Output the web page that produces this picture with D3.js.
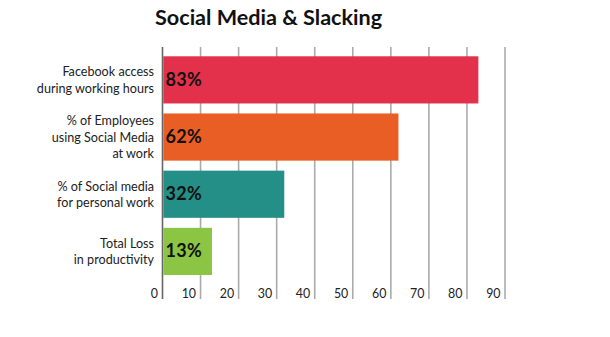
<!DOCTYPE html>
<html>
<head>
<meta charset="utf-8">
<script src="https://cdn.jsdelivr.net/npm/d3@7"></script>
<style>
  html, body { margin: 0; padding: 0; background: #fff; }
  svg { display: block; }
</style>
</head>
<body>
<svg id="chart" width="610" height="337"></svg>
<script>
const title = "Social Media & Slacking";
const categories = [
  ["Facebook access", "during working hours"],
  ["% of Employees", "using Social Media", "at work"],
  ["% of Social media", "for personal work"],
  ["Total Loss", "in productivity"]
];
const values = [83, 62, 32, 13];
const colors = ["#E3314B", "#E95E25", "#248F87", "#8CC443"];
const ticks = [0, 10, 20, 30, 40, 50, 60, 70, 80, 90];

const svg = d3.select("#chart");
const font = "Lato, 'Open Sans', sans-serif";

const x = d3.scaleLinear().domain([0, 90]).range([162.5, 505]);
const y = d3.scaleBand().domain(d3.range(values.length))
  .range([56.3, 275]).paddingInner(0.175).paddingOuter(0);

// title
svg.append("text")
  .attr("x", 155).attr("y", 25)
  .attr("font-family", font).attr("font-weight", "bold")
  .attr("font-size", 21.6).attr("fill", "#111")
  .text(title);

// grid lines
svg.append("g").selectAll("line").data(ticks).join("line")
  .attr("x1", d => x(d)).attr("x2", d => x(d))
  .attr("y1", 47).attr("y2", 299)
  .attr("stroke", d => d === 0 ? "#666" : "#aaa")
  .attr("stroke-width", 1.6);

// tick labels
svg.append("g").selectAll("text").data(ticks).join("text")
  .attr("x", d => x(d) - 4.5).attr("y", 298)
  .attr("text-anchor", "end")
  .attr("font-family", font).attr("font-size", 12.4)
  .attr("fill", "#222")
  .text(d => d);

// bars
svg.append("g").selectAll("rect").data(values).join("rect")
  .attr("x", x(0) + 0.8)
  .attr("y", (d, i) => y(i))
  .attr("width", d => x(d) - x(0) - 0.8)
  .attr("height", y.bandwidth())
  .attr("fill", (d, i) => colors[i]);

// value labels
svg.append("g").selectAll("text").data(values).join("text")
  .attr("x", x(0) + 3)
  .attr("y", (d, i) => y(i) + y.bandwidth() / 2 + 6)
  .attr("font-family", font).attr("font-weight", "bold")
  .attr("font-size", 18).attr("letter-spacing", 0.3).attr("fill", "#111")
  .text(d => d + "%");

// category labels
const lh = 16.3;
svg.append("g").selectAll("text").data(categories).join("text")
  .attr("text-anchor", "end")
  .attr("font-family", font).attr("font-size", 12.6)
  .attr("fill", "#222")
  .each(function(lines, i) {
    const cy = y(i) + y.bandwidth() / 2;
    const t = d3.select(this);
    const start = cy - (lines.length - 1) * lh / 2 + 4.5;
    lines.forEach((ln, j) => {
      t.append("tspan").attr("x", 154).attr("y", start + j * lh).text(ln);
    });
  });
</script>
</body>
</html>
